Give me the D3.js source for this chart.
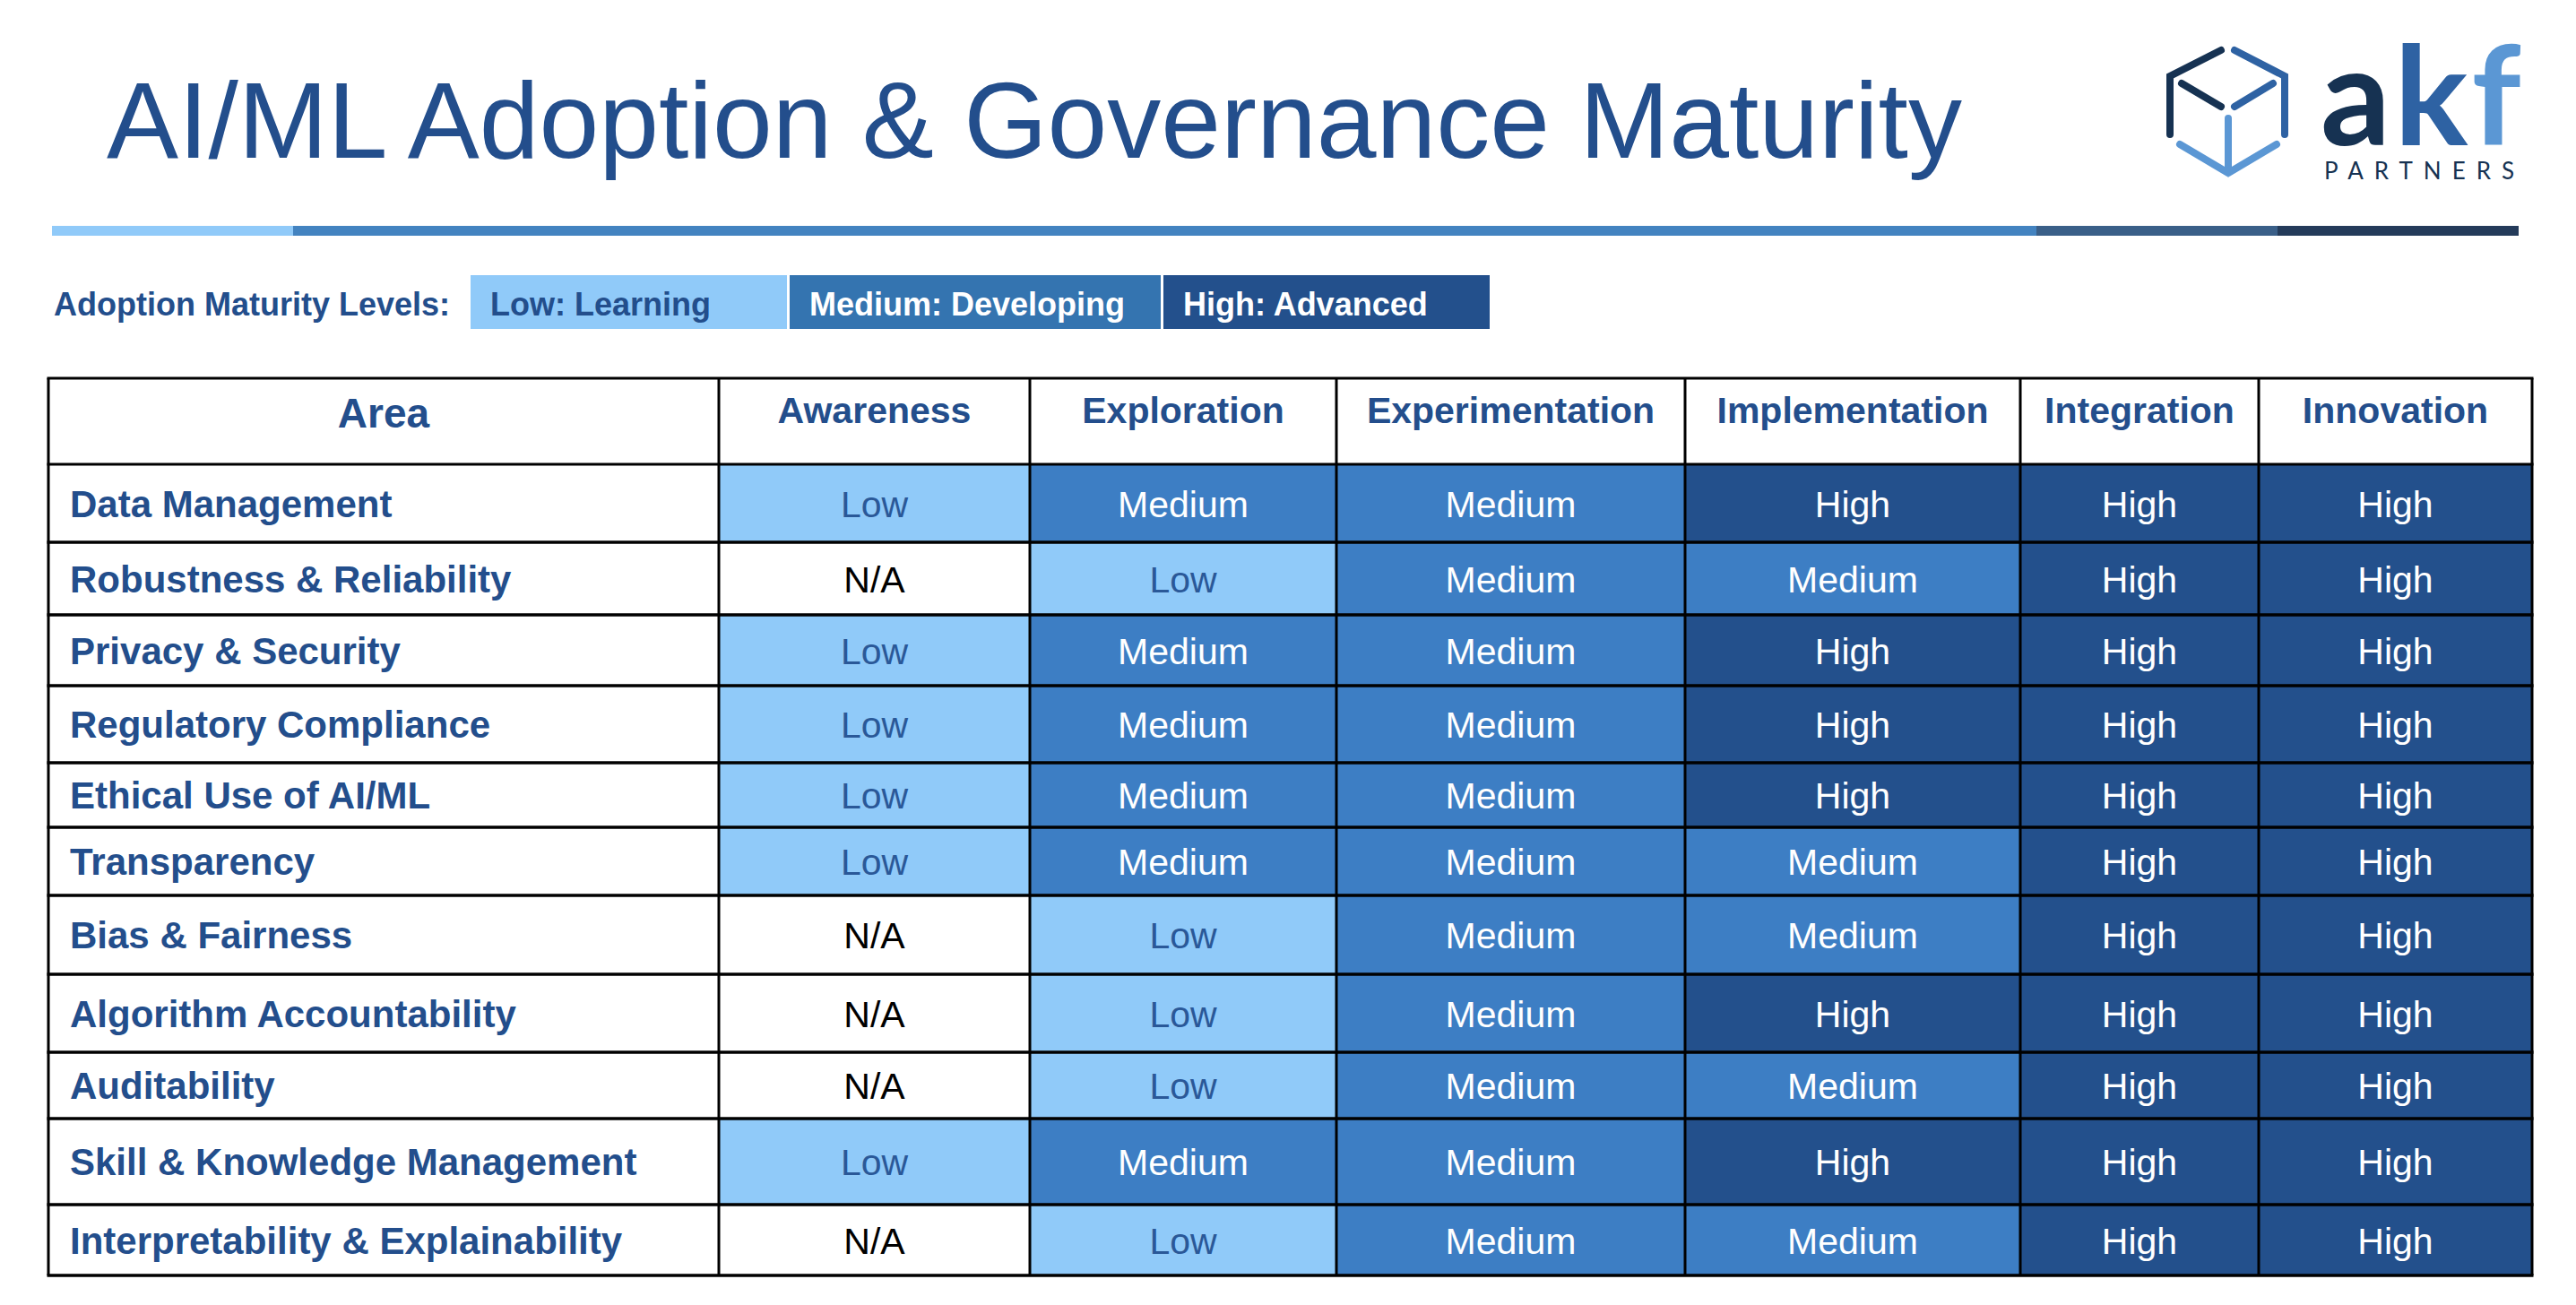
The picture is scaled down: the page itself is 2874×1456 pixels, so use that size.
<!DOCTYPE html>
<html>
<head>
<meta charset="utf-8">
<script src="https://cdn.jsdelivr.net/npm/d3@7"></script>
<style>
  html, body { margin: 0; padding: 0; background: #fff; }
  svg { display: block; }
</style>
</head>
<body>
<script>
// AI/ML adoption & governance maturity grid

// data
var areas = [
  'Data Management',
  'Robustness & Reliability',
  'Privacy & Security',
  'Regulatory Compliance',
  'Ethical Use of AI/ML',
  'Transparency',
  'Bias & Fairness',
  'Algorithm Accountability',
  'Auditability',
  'Skill & Knowledge Management',
  'Interpretability & Explainability'
];
var stages = ['Awareness', 'Exploration', 'Experimentation', 'Implementation', 'Integration', 'Innovation'];

var awareness       = ['Low', 'N/A', 'Low', 'Low', 'Low', 'Low', 'N/A', 'N/A', 'N/A', 'Low', 'N/A'];
var exploration     = ['Medium', 'Low', 'Medium', 'Medium', 'Medium', 'Medium', 'Low', 'Low', 'Low', 'Medium', 'Low'];
var experimentation = ['Medium', 'Medium', 'Medium', 'Medium', 'Medium', 'Medium', 'Medium', 'Medium', 'Medium', 'Medium', 'Medium'];
var implementation  = ['High', 'Medium', 'High', 'High', 'High', 'Medium', 'Medium', 'High', 'Medium', 'High', 'Medium'];
var integration     = ['High', 'High', 'High', 'High', 'High', 'High', 'High', 'High', 'High', 'High', 'High'];
var innovation      = ['High', 'High', 'High', 'High', 'High', 'High', 'High', 'High', 'High', 'High', 'High'];

var levels = ['Low', 'Medium', 'High', 'N/A'];
var legendLabels = ['Low: Learning', 'Medium: Developing', 'High: Advanced'];

// layout
var width = 2874,
    height = 1456,
    font = '"Liberation Sans", Arial, Helvetica, sans-serif',
    navy = '#234e8c';

var colEdges = [54, 802, 1149, 1491, 1880, 2254, 2520, 2825];
var rowEdges = [422, 518, 605, 686, 765, 851, 923, 999, 1087, 1174, 1248, 1344, 1423];
var barEdges = [58, 327, 2272, 2541, 2810];
var legendEdges = [525, 878, 881, 1295, 1298, 1662];

var columns = [awareness, exploration, experimentation, implementation, integration, innovation];

var svg = d3.select('body').append('svg')
  .attr('width', width)
  .attr('height', height)
  .attr('viewBox', [0, 0, width, height]);

svg.append('rect').attr('width', width).attr('height', height).attr('fill', '#fff');

// scales
var colKeys = ['Area'].concat(stages);
var rowKeys = ['header'].concat(areas);
var xScale = d3.scaleOrdinal().domain(colKeys).range(colEdges.slice(0, -1));
var wScale = d3.scaleOrdinal().domain(colKeys).range(d3.pairs(colEdges).map(function(p){ return p[1] - p[0]; }));
var yScale = d3.scaleOrdinal().domain(rowKeys).range(rowEdges.slice(0, -1));
var hScale = d3.scaleOrdinal().domain(rowKeys).range(d3.pairs(rowEdges).map(function(p){ return p[1] - p[0]; }));
var fillScale = d3.scaleOrdinal().domain(levels).range(['#90caf9', '#3d7ec4', '#23508c', '#ffffff']);
var textScale = d3.scaleOrdinal().domain(levels).range(['#2a5898', '#ffffff', '#ffffff', '#000000']);

// title
svg.append('text')
  .attr('x', 119).attr('y', 176)
  .attr('font-family', font).attr('font-size', 120)
  .attr('fill', navy)
  .text('AI/ML Adoption & Governance Maturity');

// coloured rule under title
var barColors = ['#90caf9', '#4383c0', '#3a5f88', '#243b5a'];
svg.append('g').selectAll('rect').data(d3.pairs(barEdges))
  .enter().append('rect')
  .attr('x', function(d){ return d[0]; })
  .attr('width', function(d){ return d[1] - d[0]; })
  .attr('y', 252).attr('height', 11)
  .attr('fill', function(d, i){ return barColors[i]; });

// logo
var logo = svg.append('g').attr('fill', 'none').attr('stroke-width', 8)
  .attr('stroke-linecap', 'round').attr('stroke-linejoin', 'miter');
logo.append('path').attr('stroke', '#163252').attr('d', 'M2478,56 L2421,85 L2421,150 M2434,93 L2478,119');
logo.append('path').attr('stroke', '#2e62a3').attr('d', 'M2493,56 L2549,85 L2549,150 M2536,93 L2493,119');
logo.append('path').attr('stroke', '#5b97d4').attr('d', 'M2432,161 L2486,193 L2540,161 M2486,132 L2486,193');

// one word, coloured letter by letter with hard gradient stops
var grad = svg.append('defs').append('linearGradient')
  .attr('id', 'akfFill').attr('gradientUnits', 'userSpaceOnUse')
  .attr('x1', 2589).attr('x2', 2810).attr('y1', 0).attr('y2', 0);
var akfStops = [[0, '#163252'], [0.37, '#163252'], [0.37, '#2e62a3'], [0.74, '#2e62a3'], [0.74, '#5b97d4'], [1, '#5b97d4']];
grad.selectAll('stop').data(akfStops)
  .enter().append('stop')
  .attr('offset', function(d){ return d[0]; })
  .attr('stop-color', function(d){ return d[1]; });
svg.append('text')
  .attr('x', 2589).attr('y', 162)
  .attr('font-family', 'Lato, "Open Sans", sans-serif')
  .attr('font-weight', 700).attr('font-size', 154)
  .attr('letter-spacing', 4)
  .attr('fill', 'url(#akfFill)')
  .text('akf');
svg.append('text')
  .attr('x', 2593).attr('y', 200)
  .attr('font-family', 'Lato, "Open Sans", sans-serif')
  .attr('font-weight', 400).attr('font-size', 26)
  .attr('textLength', 212).attr('lengthAdjust', 'spacing')
  .attr('fill', '#163252')
  .text('PARTNERS');

// legend
svg.append('text')
  .attr('x', 60).attr('y', 352)
  .attr('font-family', font).attr('font-weight', 700).attr('font-size', 36)
  .attr('fill', navy)
  .text('Adoption Maturity Levels:');

var legendFill = ['#90caf9', '#3474b0', '#23508c'];
var legendText = [navy, '#ffffff', '#ffffff'];
var lg = svg.append('g').selectAll('g').data(legendLabels)
  .enter().append('g');
lg.append('rect')
  .attr('x', function(d, i){ return legendEdges[i * 2]; })
  .attr('width', function(d, i){ return legendEdges[i * 2 + 1] - legendEdges[i * 2]; })
  .attr('y', 307).attr('height', 60)
  .attr('fill', function(d, i){ return legendFill[i]; });
lg.append('text')
  .attr('x', function(d, i){ return legendEdges[i * 2] + 22; })
  .attr('y', 352)
  .attr('font-family', font).attr('font-weight', 700).attr('font-size', 36)
  .attr('fill', function(d, i){ return legendText[i]; })
  .text(function(d){ return d; });

// table cells
var cells = [];
areas.forEach(function(a, r){
  stages.forEach(function(s, c){
    cells.push({area: a, stage: s, level: columns[c][r]});
  });
});

var table = svg.append('g');

table.append('rect')
  .attr('x', colEdges[0]).attr('y', rowEdges[0])
  .attr('width', colEdges[colEdges.length - 1] - colEdges[0])
  .attr('height', rowEdges[rowEdges.length - 1] - rowEdges[0])
  .attr('fill', '#fff');

table.selectAll('rect.cell').data(cells)
  .enter().append('rect').attr('class', 'cell')
  .attr('x', function(d){ return xScale(d.stage); })
  .attr('y', function(d){ return yScale(d.area); })
  .attr('width', function(d){ return wScale(d.stage); })
  .attr('height', function(d){ return hScale(d.area); })
  .attr('fill', function(d){ return fillScale(d.level); });

table.selectAll('text.cell').data(cells)
  .enter().append('text').attr('class', 'cell')
  .attr('x', function(d){ return xScale(d.stage) + wScale(d.stage) / 2; })
  .attr('y', function(d){ return yScale(d.area) + hScale(d.area) / 2 + 15; })
  .attr('text-anchor', 'middle')
  .attr('font-family', font).attr('font-size', 41)
  .attr('fill', function(d){ return textScale(d.level); })
  .text(function(d){ return d.level; });

// row labels
table.selectAll('text.area').data(areas)
  .enter().append('text').attr('class', 'area')
  .attr('x', colEdges[0] + 24)
  .attr('y', function(d){ return yScale(d) + hScale(d) / 2 + 15; })
  .attr('font-family', font).attr('font-weight', 700).attr('font-size', 42)
  .attr('fill', navy)
  .text(function(d){ return d; });

// header
table.selectAll('text.head').data(colKeys)
  .enter().append('text').attr('class', 'head')
  .attr('x', function(d){ return xScale(d) + wScale(d) / 2; })
  .attr('y', function(d){ return d === 'Area' ? 477 : 472; })
  .attr('text-anchor', 'middle')
  .attr('font-family', font).attr('font-weight', 700)
  .attr('font-size', function(d){ return d === 'Area' ? 46 : 41; })
  .attr('fill', navy)
  .text(function(d){ return d; });

// grid lines
table.selectAll('line.h').data(rowEdges)
  .enter().append('line').attr('class', 'h')
  .attr('x1', colEdges[0] - 1.5).attr('x2', colEdges[colEdges.length - 1] + 1.5)
  .attr('y1', function(d){ return d; }).attr('y2', function(d){ return d; })
  .attr('stroke', '#000').attr('stroke-width', function(d, i){ return i === 0 || i === 1 ? 3 : 3.5; });

table.selectAll('line.v').data(colEdges)
  .enter().append('line').attr('class', 'v')
  .attr('y1', rowEdges[0]).attr('y2', rowEdges[rowEdges.length - 1])
  .attr('x1', function(d){ return d; }).attr('x2', function(d){ return d; })
  .attr('stroke', '#000').attr('stroke-width', 3);
</script>
</body>
</html>
